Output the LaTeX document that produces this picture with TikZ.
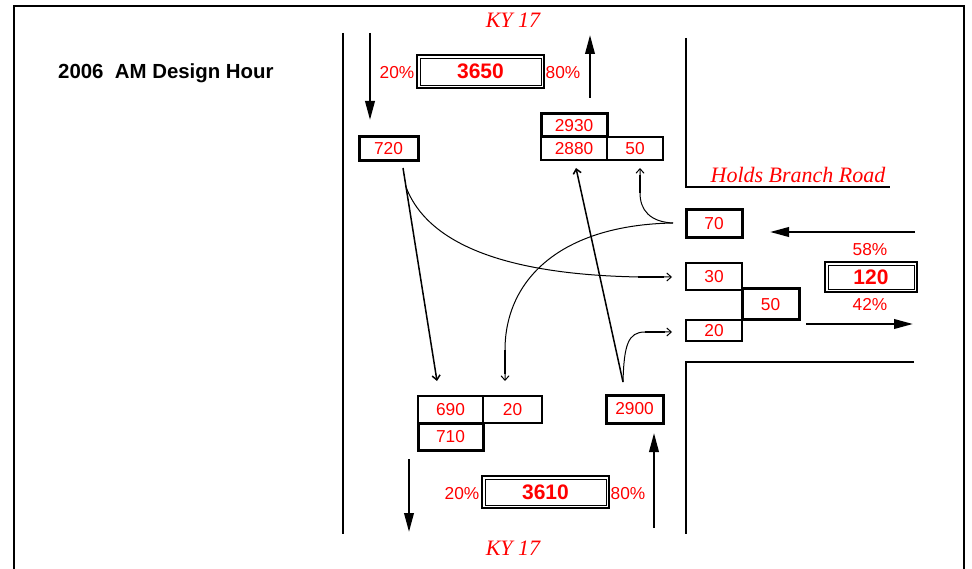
\documentclass[tikz,border=0pt]{standalone}
\usepackage{fontspec}
\setmainfont{Liberation Sans}
\newfontfamily\timesfont{Liberation Serif}
\usetikzlibrary{arrows.meta}
\begin{document}
\begin{tikzpicture}[x=1pt,y=-1pt,
  box/.style={draw, rectangle, inner sep=0pt, outer sep=0pt, text=red, font=\fontsize{17.3}{17}\selectfont},
  thinbox/.style={box, line width=1.5pt},
  thickbox/.style={box, line width=3pt},
  dblbox/.style={box, line width=2.2pt, font=\fontsize{21}{21}\selectfont\bfseries},
  pct/.style={text=red, font=\fontsize{17.3}{17}\selectfont, inner sep=0pt},
  road/.style={line width=1.3pt},
  bigarrow/.style={line width=2.2pt, -{Triangle[length=19pt,width=9.5pt]}},
  flow/.style={line width=1pt, -{Straight Barb[length=4.5pt,width=8pt]}},
  streetname/.style={text=red, font=\timesfont\itshape\fontsize{22}{22}\selectfont, inner sep=0pt},
]
\useasboundingbox (0,0) rectangle (972,569);
% frame
\draw[line width=1.3pt] (14,569) -- (14,6) -- (964,6) -- (964,569);
% title
\node[anchor=west, inner sep=0pt, font=\fontsize{20.4}{20}\selectfont\bfseries] (title) at (58,73) {2006\ \ AM Design Hour};
% road edges
\draw[road] (343,33) -- (343,534);
\draw[road] (686,38) -- (686,187) -- (890,187);
\draw[road] (914,362) -- (686,362) -- (686,534);
% street names
\node[streetname] (kytop) at (513,20) {KY 17};
\node[streetname] (kybot) at (513,548) {KY 17};
\node[streetname] (holds) at (798,175) {Holds Branch Road};
% big direction arrows
\draw[bigarrow] (370,33) -- (370,120);
\draw[bigarrow] (590,98) -- (590,35);
\draw[bigarrow] (409,459) -- (409,532);
\draw[bigarrow] (654,528) -- (654,433);
\draw[bigarrow] (915,232) -- (770,232);
\draw[bigarrow] (806,324) -- (913,324);
% double boxes with totals
\node[dblbox, minimum width=127pt, minimum height=33pt] (t3650) at (480.5,71.5) {3650};
\draw[line width=0.8pt] ([shift={(3pt,-3pt)}]t3650.north west) rectangle ([shift={(-3pt,3pt)}]t3650.south east);
\node[dblbox, minimum width=127pt, minimum height=32pt] (t3610) at (545.5,492) {3610};
\draw[line width=0.8pt] ([shift={(3pt,-3pt)}]t3610.north west) rectangle ([shift={(-3pt,3pt)}]t3610.south east);
\node[dblbox, minimum width=92pt, minimum height=30pt] (t120) at (871,277) {120};
\draw[line width=0.8pt] ([shift={(3pt,-3pt)}]t120.north west) rectangle ([shift={(-3pt,3pt)}]t120.south east);
% percentages
\node[pct] (p1) at (397,73) {20\%};
\node[pct] (p2) at (563,73) {80\%};
\node[pct] (p3) at (462,494) {20\%};
\node[pct] (p4) at (628,494) {80\%};
\node[pct] (p5) at (870,250) {58\%};
\node[pct] (p6) at (870,305) {42\%};
% volume boxes
\node[thickbox, minimum width=59pt, minimum height=24pt] (v720) at (388.5,149) {720};
\node[thickbox, minimum width=66pt, minimum height=23pt] (v2930) at (574,125.5) {2930};
\node[thinbox, minimum width=66pt, minimum height=23pt] (v2880) at (574,148.5) {2880};
\node[thinbox, minimum width=56pt, minimum height=23pt] (v50t) at (635,148.5) {50};
\node[thickbox, minimum width=56pt, minimum height=28pt] (v70) at (714,224) {70};
\node[thinbox, minimum width=56pt, minimum height=27pt] (v30) at (714,276.5) {30};
\node[thickbox, minimum width=57pt, minimum height=31pt] (v50r) at (770.5,304.5) {50};
\node[thinbox, minimum width=56pt, minimum height=21pt] (v20r) at (714,330.5) {20};
\node[thinbox, minimum width=65pt, minimum height=27pt] (v690) at (450.5,409.5) {690};
\node[thinbox, minimum width=59pt, minimum height=27pt] (v20b) at (512.5,409.5) {20};
\node[thickbox, minimum width=65pt, minimum height=27pt] (v710) at (450.5,436.5) {710};
\node[thickbox, minimum width=57pt, minimum height=28pt] (v2900) at (634.5,409) {2900};
% turning movement connectors
\coordinate (s720) at (403,168);
\coordinate (b720) at (406,187);
\coordinate (e690) at (437,381);
\coordinate (e30) at (672,277);
\coordinate (w70) at (673,223);
\coordinate (e20b) at (505,381);
\coordinate (e50t) at (640,168);
\coordinate (n2900) at (623,382);
\coordinate (e2880) at (576,168);
\coordinate (e20r) at (672,332);
\draw[flow, line width=1.5pt] (s720) -- (e690);
\draw[flow] (b720) .. controls (430,250) and (520,275) .. (640,277) -- (e30);
\draw[line width=2pt] (638,277) -- (664,277);
\draw[flow] (w70) .. controls (560,225) and (505,280) .. (505,350) -- (e20b);
\draw[line width=2pt] (505,350) -- (505,374);
\draw[flow] (w70) .. controls (650,222) and (640,210) .. (640,193) -- (e50t);
\draw[line width=2pt] (640,193) -- (640,175);
\draw[flow, line width=1.5pt] (n2900) -- (e2880);
\draw[flow] (n2900) .. controls (624,345) and (628,332) .. (645,332) -- (e20r);
\draw[line width=2pt] (645,332) -- (665,332);
\end{tikzpicture}
\end{document}
